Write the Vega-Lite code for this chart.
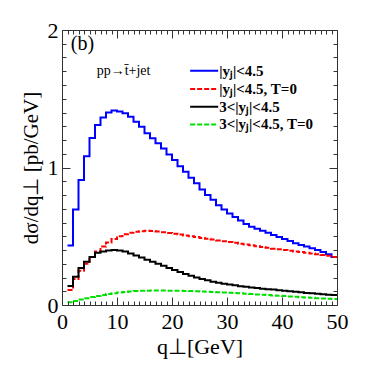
{
  "$schema": "https://vega.github.io/schema/vega-lite/v6.json",
  "width": 275,
  "height": 275,
  "autosize": {"type": "none"},
  "padding": {"left": 62, "top": 30, "right": 29, "bottom": 61},
  "background": "white",
  "config": {
    "view": {"stroke": "#333", "strokeWidth": 1},
    "font": "Liberation Serif"
  },
  "data": {"name": "curves"},
  "datasets": {
    "curves": [
      {"q": 1, "a": 0.433, "b": 0.11, "c": 0.138, "d": 0.02},
      {"q": 2, "a": 0.695, "b": 0.19, "c": 0.205, "d": 0.03},
      {"q": 3, "a": 0.91, "b": 0.25, "c": 0.27, "d": 0.04},
      {"q": 4, "a": 1.082, "b": 0.3, "c": 0.315, "d": 0.05},
      {"q": 5, "a": 1.215, "b": 0.35, "c": 0.35, "d": 0.058},
      {"q": 6, "a": 1.31, "b": 0.39, "c": 0.38, "d": 0.066},
      {"q": 7, "a": 1.363, "b": 0.425, "c": 0.39, "d": 0.073},
      {"q": 8, "a": 1.4, "b": 0.455, "c": 0.397, "d": 0.08},
      {"q": 9, "a": 1.414, "b": 0.48, "c": 0.4, "d": 0.086},
      {"q": 10, "a": 1.407, "b": 0.5, "c": 0.397, "d": 0.091},
      {"q": 11, "a": 1.395, "b": 0.515, "c": 0.39, "d": 0.095},
      {"q": 12, "a": 1.37, "b": 0.525, "c": 0.375, "d": 0.099},
      {"q": 13, "a": 1.333, "b": 0.532, "c": 0.36, "d": 0.101},
      {"q": 14, "a": 1.297, "b": 0.537, "c": 0.345, "d": 0.103},
      {"q": 15, "a": 1.25, "b": 0.54, "c": 0.33, "d": 0.104},
      {"q": 16, "a": 1.212, "b": 0.538, "c": 0.315, "d": 0.105},
      {"q": 17, "a": 1.176, "b": 0.535, "c": 0.3, "d": 0.105},
      {"q": 18, "a": 1.139, "b": 0.53, "c": 0.285, "d": 0.105},
      {"q": 19, "a": 1.095, "b": 0.524, "c": 0.27, "d": 0.104},
      {"q": 20, "a": 1.055, "b": 0.518, "c": 0.255, "d": 0.104},
      {"q": 21, "a": 1.01, "b": 0.512, "c": 0.24, "d": 0.103},
      {"q": 22, "a": 0.97, "b": 0.506, "c": 0.225, "d": 0.102},
      {"q": 23, "a": 0.925, "b": 0.5, "c": 0.212, "d": 0.101},
      {"q": 24, "a": 0.885, "b": 0.494, "c": 0.2, "d": 0.1},
      {"q": 25, "a": 0.84, "b": 0.488, "c": 0.19, "d": 0.099},
      {"q": 26, "a": 0.8, "b": 0.482, "c": 0.18, "d": 0.097},
      {"q": 27, "a": 0.765, "b": 0.476, "c": 0.17, "d": 0.095},
      {"q": 28, "a": 0.725, "b": 0.47, "c": 0.162, "d": 0.093},
      {"q": 29, "a": 0.695, "b": 0.464, "c": 0.155, "d": 0.091},
      {"q": 30, "a": 0.665, "b": 0.458, "c": 0.149, "d": 0.089},
      {"q": 31, "a": 0.64, "b": 0.452, "c": 0.143, "d": 0.087},
      {"q": 32, "a": 0.615, "b": 0.446, "c": 0.137, "d": 0.085},
      {"q": 33, "a": 0.59, "b": 0.44, "c": 0.132, "d": 0.082},
      {"q": 34, "a": 0.57, "b": 0.434, "c": 0.127, "d": 0.08},
      {"q": 35, "a": 0.555, "b": 0.428, "c": 0.123, "d": 0.077},
      {"q": 36, "a": 0.54, "b": 0.422, "c": 0.119, "d": 0.075},
      {"q": 37, "a": 0.525, "b": 0.416, "c": 0.115, "d": 0.072},
      {"q": 38, "a": 0.51, "b": 0.41, "c": 0.112, "d": 0.07},
      {"q": 39, "a": 0.495, "b": 0.405, "c": 0.108, "d": 0.067},
      {"q": 40, "a": 0.48, "b": 0.4, "c": 0.104, "d": 0.065},
      {"q": 41, "a": 0.465, "b": 0.395, "c": 0.1, "d": 0.062},
      {"q": 42, "a": 0.45, "b": 0.39, "c": 0.096, "d": 0.06},
      {"q": 43, "a": 0.437, "b": 0.385, "c": 0.092, "d": 0.057},
      {"q": 44, "a": 0.425, "b": 0.38, "c": 0.088, "d": 0.055},
      {"q": 45, "a": 0.413, "b": 0.375, "c": 0.085, "d": 0.052},
      {"q": 46, "a": 0.4, "b": 0.37, "c": 0.081, "d": 0.05},
      {"q": 47, "a": 0.385, "b": 0.364, "c": 0.078, "d": 0.048},
      {"q": 48, "a": 0.37, "b": 0.358, "c": 0.075, "d": 0.046},
      {"q": 49, "a": 0.35, "b": 0.35, "c": 0.072, "d": 0.044},
      {"q": 50, "a": 0.35, "b": 0.35, "c": 0.072, "d": 0.044}
    ],
    "legend": [
      {"x1": 23.3, "x2": 28.4, "y": 1.704, "label": "|yⱼ|<4.5", "k": "a"},
      {"x1": 23.3, "x2": 28.4, "y": 1.571, "label": "|yⱼ|<4.5, T=0", "k": "b"},
      {"x1": 23.3, "x2": 28.4, "y": 1.442, "label": "3<|yⱼ|<4.5", "k": "c"},
      {"x1": 23.3, "x2": 28.4, "y": 1.313, "label": "3<|yⱼ|<4.5, T=0", "k": "d"}
    ],
    "notes": [
      {"x": 1.6, "y": 1.9, "t": "(b)", "size": 20},
      {"x": 6.3, "y": 1.704, "t": "pp→t̄+jet", "size": 14}
    ]
  },
  "layer": [
    {
      "mark": {"type": "line", "interpolate": "step-after", "color": "#0000ff", "strokeWidth": 2},
      "encoding": {
        "x": {"field": "q", "type": "quantitative", "scale": {"domain": [0, 50], "nice": false, "zero": false},
              "axis": {"orient": "bottom", "values": [0, 10, 20, 30, 40, 50], "format": ".0f", "grid": false, "domain": false, "ticks": true, "tickWidth": 1, "tickOpacity": 1, "zindex": 1, "tickColor": "#333", "labelFlush": false, "labelColor": "black", "offset": -8, "tickSize": 8, "labelPadding": 6, "labelFontSize": 22, "title": "q⊥[GeV]", "titleColor": "black", "titleFontWeight": "normal", "titleFontSize": 22, "titlePadding": 4}},
        "y": {"field": "a", "type": "quantitative", "scale": {"domain": [0, 2], "nice": false},
              "axis": {"orient": "left", "values": [0, 1, 2], "format": ".0f", "grid": false, "domain": false, "ticks": true, "tickWidth": 1, "tickOpacity": 1, "zindex": 1, "tickColor": "#333", "labelFlush": false, "labelColor": "black", "offset": -8, "tickSize": 8, "labelPadding": 4, "labelFontSize": 22, "title": "dσ/dq⊥ [pb/GeV]", "titleColor": "black", "titleFontWeight": "normal", "titleFontSize": 21, "titlePadding": 6}}
      }
    },
    {
      "mark": {"type": "line", "interpolate": "step-after", "color": "#ff0000", "strokeWidth": 2, "strokeDash": [5, 2]},
      "encoding": {
        "x": {"field": "q", "type": "quantitative", "scale": {"domain": [0, 50], "nice": false, "zero": false},
              "axis": {"orient": "bottom", "values": [1,2,3,4,5,6,7,8,9,11,12,13,14,15,16,17,18,19,21,22,23,24,25,26,27,28,29,31,32,33,34,35,36,37,38,39,41,42,43,44,45,46,47,48,49], "grid": false, "domain": false, "ticks": true, "tickWidth": 1, "tickOpacity": 1, "zindex": 1, "tickColor": "#333", "offset": -4, "tickSize": 4, "labels": false, "title": null}},
        "y": {"field": "b", "type": "quantitative", "scale": {"domain": [0, 2], "nice": false},
              "axis": {"orient": "left", "values": [0.1,0.2,0.3,0.4,0.5,0.6,0.7,0.8,0.9,1.1,1.2,1.3,1.4,1.5,1.6,1.7,1.8,1.9], "grid": false, "domain": false, "ticks": true, "tickWidth": 1, "tickOpacity": 1, "zindex": 1, "tickColor": "#333", "offset": -4, "tickSize": 4, "labels": false, "title": null}}
      }
    },
    {
      "mark": {"type": "line", "interpolate": "step-after", "color": "black", "strokeWidth": 2},
      "encoding": {
        "x": {"field": "q", "type": "quantitative", "scale": {"domain": [0, 50], "nice": false, "zero": false},
              "axis": {"orient": "top", "values": [0, 10, 20, 30, 40, 50], "grid": false, "domain": false, "ticks": true, "tickWidth": 1, "tickOpacity": 1, "zindex": 1, "tickColor": "#333", "offset": -8, "tickSize": 8, "labels": false, "title": null}},
        "y": {"field": "c", "type": "quantitative", "scale": {"domain": [0, 2], "nice": false},
              "axis": {"orient": "right", "values": [0, 1, 2], "grid": false, "domain": false, "ticks": true, "tickWidth": 1, "tickOpacity": 1, "zindex": 1, "tickColor": "#333", "offset": -8, "tickSize": 8, "labels": false, "title": null}}
      }
    },
    {
      "mark": {"type": "line", "interpolate": "step-after", "color": "#00e000", "strokeWidth": 2, "strokeDash": [5, 2]},
      "encoding": {
        "x": {"field": "q", "type": "quantitative", "scale": {"domain": [0, 50], "nice": false, "zero": false},
              "axis": {"orient": "top", "values": [1,2,3,4,5,6,7,8,9,11,12,13,14,15,16,17,18,19,21,22,23,24,25,26,27,28,29,31,32,33,34,35,36,37,38,39,41,42,43,44,45,46,47,48,49], "grid": false, "domain": false, "ticks": true, "tickWidth": 1, "tickOpacity": 1, "zindex": 1, "tickColor": "#333", "offset": -4, "tickSize": 4, "labels": false, "title": null}},
        "y": {"field": "d", "type": "quantitative", "scale": {"domain": [0, 2], "nice": false},
              "axis": {"orient": "right", "values": [0.1,0.2,0.3,0.4,0.5,0.6,0.7,0.8,0.9,1.1,1.2,1.3,1.4,1.5,1.6,1.7,1.8,1.9], "grid": false, "domain": false, "ticks": true, "tickWidth": 1, "tickOpacity": 1, "zindex": 1, "tickColor": "#333", "offset": -4, "tickSize": 4, "labels": false, "title": null}}
      }
    },
    {
      "data": {"name": "legend"},
      "mark": {"type": "rule", "strokeWidth": 2},
      "encoding": {
        "x": {"field": "x1", "type": "quantitative", "axis": null},
        "x2": {"field": "x2"},
        "y": {"field": "y", "type": "quantitative", "axis": null},
        "color": {"field": "k", "type": "nominal", "scale": {"domain": ["a", "b", "c", "d"], "range": ["#0000ff", "#ff0000", "black", "#00e000"]}, "legend": null},
        "strokeDash": {"field": "k", "type": "nominal", "scale": {"domain": ["a", "b", "c", "d"], "range": [[1, 0], [5, 2], [1, 0], [5, 2]]}, "legend": null}
      }
    },
    {
      "data": {"name": "legend"},
      "mark": {"type": "text", "align": "left", "baseline": "middle", "fontSize": 15, "fontWeight": "bold", "font": "Liberation Serif", "dx": 1},
      "encoding": {
        "x": {"field": "x2", "type": "quantitative", "axis": null},
        "y": {"field": "y", "type": "quantitative", "axis": null},
        "text": {"field": "label"}
      }
    },
    {
      "data": {"name": "notes"},
      "mark": {"type": "text", "align": "left", "baseline": "middle", "font": "Liberation Serif"},
      "encoding": {
        "x": {"field": "x", "type": "quantitative", "axis": null},
        "y": {"field": "y", "type": "quantitative", "axis": null},
        "text": {"field": "t"},
        "size": {"field": "size", "type": "quantitative", "scale": null}
      }
    }
  ],
  "resolve": {"axis": {"x": "independent", "y": "independent"}}
}
